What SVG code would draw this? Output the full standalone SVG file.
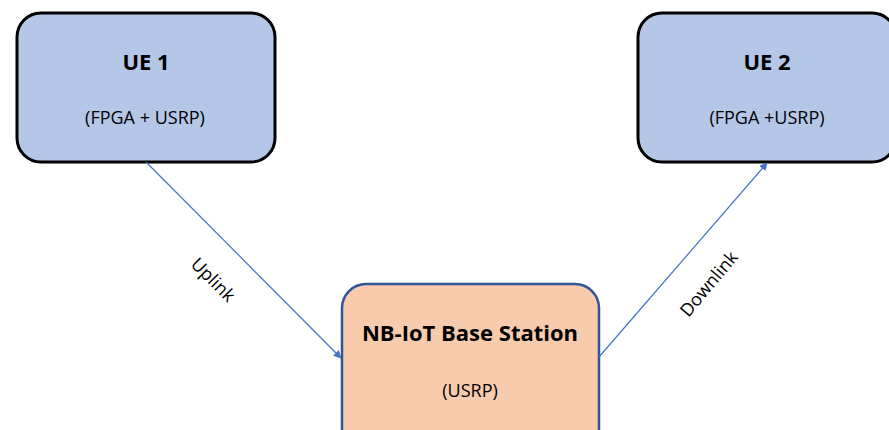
<svg xmlns="http://www.w3.org/2000/svg" width="889" height="430" viewBox="0 0 889 430">
  <style>
    .ue { fill: #B4C7E7; stroke: #000000; stroke-width: 3; }
    .bs { fill: #F8CBAD; stroke: #2F5597; stroke-width: 2.5; }
    .title { font-family: "Open Sans", "Liberation Sans", sans-serif; font-weight: bold; font-size: 22px; fill: #000; text-anchor: middle; }
    .sub { font-family: "Open Sans", "Liberation Sans", sans-serif; font-size: 18px; fill: #000; text-anchor: middle; }
    .lbl { font-family: "Open Sans", "Liberation Sans", sans-serif; font-size: 18px; fill: #000; text-anchor: middle; }
    .link { stroke: #4472C4; stroke-width: 1.2; fill: none; marker-end: url(#arrow); }
  </style>
  <defs>
    <marker id="arrow" viewBox="0 0 10 10" refX="9" refY="5" markerWidth="8" markerHeight="8" markerUnits="userSpaceOnUse" orient="auto">
      <path d="M0,0 L10,5 L0,10 z" fill="#4472C4"/>
    </marker>
  </defs>

  <g id="ue1">
    <rect class="ue" x="17" y="13" width="258" height="149" rx="24" ry="24"/>
    <text class="title" x="146" y="70">UE 1</text>
    <text class="sub" x="145" y="124">(FPGA + USRP)</text>
  </g>

  <g id="ue2">
    <rect class="ue" x="638" y="13" width="258" height="149" rx="24" ry="24"/>
    <text class="title" x="767" y="70">UE 2</text>
    <text class="sub" x="767" y="124">(FPGA +USRP)</text>
  </g>

  <g id="base-station">
    <rect class="bs" x="342" y="284" width="257" height="170" rx="24" ry="24"/>
    <text class="title" x="470" y="341">NB-IoT Base Station</text>
    <text class="sub" x="470" y="397">(USRP)</text>
  </g>

  <g id="connectors">
    <line class="link" x1="146" y1="162" x2="341" y2="358"/>
    <line class="link" x1="599" y1="357" x2="767" y2="163"/>
    <text class="lbl" transform="translate(213,280) rotate(45)" dy="6">Uplink</text>
    <text class="lbl" transform="translate(709,284) rotate(-50)" dy="6">Downlink</text>
  </g>
</svg>
